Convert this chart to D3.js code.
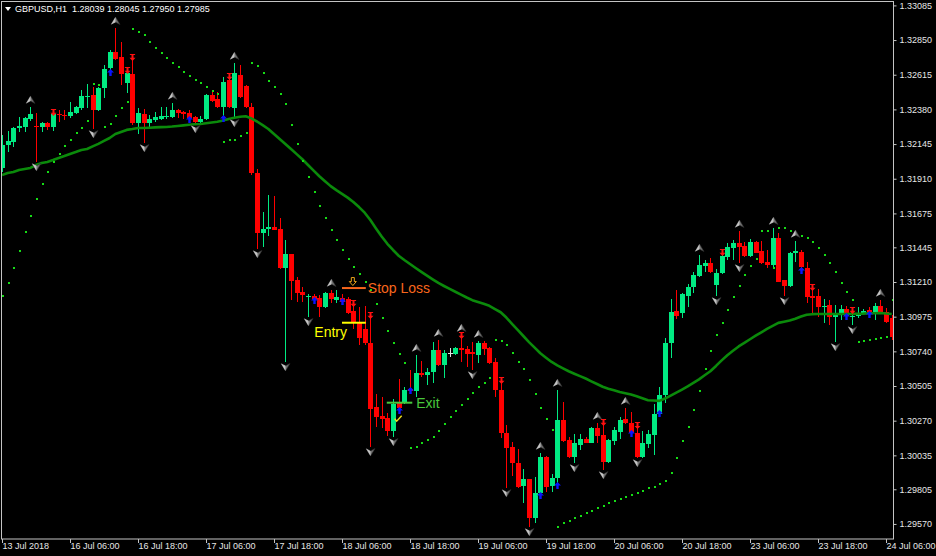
<!DOCTYPE html>
<html><head><meta charset="utf-8">
<script src="https://cdn.jsdelivr.net/npm/d3@7"></script>
<style>html,body{margin:0;padding:0;background:#000;}svg{display:block}</style>
</head><body><svg id="c" width="936" height="556"></svg>
<script>
// ---------------- data ----------------
const symbolLabel = "GBPUSD,H1";
const quoteValues = ["1.28039", "1.28045", "1.27950", "1.27985"];

const timeTickIndex = [0, 12, 24, 36, 48, 60, 72, 84, 96, 108, 120, 132, 144, 156];
const timeTickLabels = ["13 Jul 2018", "16 Jul 06:00", "16 Jul 18:00", "17 Jul 06:00", "17 Jul 18:00",
  "18 Jul 06:00", "18 Jul 18:00", "19 Jul 06:00", "19 Jul 18:00", "20 Jul 06:00", "20 Jul 18:00",
  "23 Jul 06:00", "23 Jul 18:00", "24 Jul 06:00"];
const priceTicks = [1.33085, 1.32850, 1.32615, 1.32380, 1.32145, 1.31910, 1.31675, 1.31445,
  1.31210, 1.30975, 1.30740, 1.30505, 1.30270, 1.30035, 1.29805, 1.29570];

const open = [
1.31983,1.32139,1.32159,1.32254,1.32261,1.32315,1.32268,1.32261,1.32288,1.32261,
1.32349,1.32342,1.32336,1.32356,1.32390,1.32464,1.32478,1.32376,1.32525,1.32661,
1.32769,1.32736,1.32559,1.32620,1.32288,1.32349,1.32288,1.32308,1.32315,1.32329,
1.32329,1.32376,1.32363,1.32356,1.32329,1.32295,1.32315,1.32478,1.32451,1.32397,
1.32580,1.32390,1.32613,1.32539,1.32397,1.31949,1.31542,1.31569,1.31583,1.31569,
1.31305,1.31400,1.31224,1.31142,1.31108,1.31115,1.31102,1.31041,1.31135,1.31088,
1.31102,1.31095,1.31013,1.30939,1.30891,1.30796,1.30363,1.30302,1.30288,1.30200,
1.30390,1.30390,1.30485,1.30471,1.30593,1.30579,1.30600,1.30749,1.30647,1.30729,
1.30722,1.30763,1.30756,1.30735,1.30715,1.30796,1.30763,1.30668,1.30478,1.30186,
1.30091,1.29983,1.29827,1.29874,1.29610,1.29779,1.30024,1.29827,1.29881,1.30274,
1.30139,1.30024,1.30105,1.30146,1.30118,1.30220,1.30173,1.29990,1.30132,1.30193,
1.30281,1.30254,1.30186,1.30024,1.30112,1.30173,1.30315,1.30444,1.30796,1.31013,
1.31000,1.31115,1.31176,1.31251,1.31319,1.31339,1.31190,1.31271,1.31380,1.31441,
1.31474,1.31454,1.31386,1.31481,1.31420,1.31346,1.31325,1.31508,1.31224,1.31183,
1.31407,1.31413,1.31305,1.31115,1.31115,1.31041,1.31054,1.30973,1.30993,1.31027,
1.30973,1.30980,1.31000,1.31020,1.31007,1.31047,1.31007,1.30966];

const high = [
1.32207,1.32234,1.32261,1.32329,1.32329,1.32397,1.32356,1.32295,1.32295,1.32363,
1.32376,1.32376,1.32430,1.32403,1.32512,1.32552,1.32532,1.32532,1.32681,1.32783,
1.32932,1.32837,1.32647,1.32736,1.32390,1.32383,1.32342,1.32363,1.32397,1.32397,
1.32424,1.32383,1.32369,1.32376,1.32336,1.32336,1.32485,1.32498,1.32498,1.32600,
1.32607,1.32695,1.32681,1.32546,1.32424,1.31976,1.31685,1.31800,1.31793,1.31644,
1.31495,1.31400,1.31244,1.31176,1.31129,1.31129,1.31122,1.31142,1.31156,1.31156,
1.31129,1.31108,1.31068,1.31041,1.31047,1.30986,1.30451,1.30430,1.30322,1.30417,
1.30552,1.30498,1.30613,1.30715,1.30674,1.30627,1.30803,1.30817,1.30749,1.30763,
1.30769,1.30851,1.30776,1.30803,1.30810,1.30810,1.30769,1.30695,1.30546,1.30240,
1.30125,1.30078,1.29942,1.29874,1.29888,1.30051,1.30030,1.29908,1.30478,1.30396,
1.30159,1.30179,1.30179,1.30159,1.30227,1.30254,1.30261,1.30146,1.30227,1.30295,
1.30356,1.30329,1.30240,1.30200,1.30207,1.30383,1.30498,1.30830,1.31095,1.31156,
1.31135,1.31196,1.31278,1.31393,1.31359,1.31373,1.31298,1.31413,1.31474,1.31495,
1.31556,1.31481,1.31502,1.31488,1.31488,1.31427,1.31576,1.31542,1.31224,1.31413,
1.31488,1.31427,1.31346,1.31176,1.31163,1.31095,1.31088,1.31054,1.31054,1.31047,
1.31020,1.31041,1.31027,1.31041,1.31068,1.31088,1.31034,1.30986];

const low = [
1.31956,1.32091,1.32125,1.32227,1.32227,1.32302,1.32024,1.32227,1.32241,1.32234,
1.32295,1.32308,1.32322,1.32349,1.32376,1.32390,1.32247,1.32369,1.32458,1.32620,
1.32715,1.32546,1.32491,1.32274,1.32213,1.32152,1.32261,1.32295,1.32308,1.32315,
1.32322,1.32322,1.32315,1.32302,1.32281,1.32288,1.32308,1.32430,1.32390,1.32308,
1.32390,1.32322,1.32458,1.32390,1.31935,1.31434,1.31447,1.31522,1.31563,1.31298,
1.30668,1.31088,1.31074,1.31074,1.30973,1.31074,1.30973,1.31034,1.31068,1.31068,
1.31068,1.30993,1.30891,1.30783,1.30783,1.30091,1.30227,1.30220,1.30166,1.30159,
1.30329,1.30383,1.30464,1.30430,1.30566,1.30512,1.30525,1.30641,1.30559,1.30702,
1.30715,1.30668,1.30634,1.30613,1.30661,1.30715,1.30654,1.30430,1.30152,1.29813,
1.29895,1.29813,1.29712,1.29549,1.29576,1.29752,1.29786,1.29786,1.29820,1.30125,
1.30017,1.29983,1.30071,1.30118,1.30118,1.30118,1.29935,1.29983,1.30105,1.30146,
1.30247,1.30173,1.30017,1.30017,1.30085,1.30037,1.30308,1.30390,1.30695,1.30959,
1.30966,1.31041,1.31135,1.31244,1.31278,1.31271,1.31115,1.31264,1.31359,1.31359,
1.31339,1.31380,1.31380,1.31407,1.31332,1.31305,1.31298,1.31210,1.31115,1.31176,
1.31346,1.31278,1.31068,1.31000,1.30973,1.30932,1.30918,1.30803,1.30952,1.30966,
1.30918,1.30966,1.30986,1.30980,1.30952,1.30993,1.30932,1.30817];

const close = [
1.32139,1.32166,1.32254,1.32268,1.32322,1.32349,1.32261,1.32288,1.32261,1.32349,
1.32342,1.32336,1.32363,1.32397,1.32471,1.32471,1.32376,1.32525,1.32654,1.32769,
1.32722,1.32620,1.32627,1.32288,1.32356,1.32288,1.32315,1.32329,1.32336,1.32336,
1.32376,1.32356,1.32349,1.32322,1.32295,1.32315,1.32478,1.32437,1.32397,1.32566,
1.32397,1.32627,1.32464,1.32397,1.31949,1.31542,1.31569,1.31583,1.31563,1.31305,
1.31400,1.31217,1.31135,1.31122,1.31115,1.31095,1.31041,1.31135,1.31095,1.31108,
1.31074,1.31000,1.30932,1.30830,1.30796,1.30349,1.30295,1.30281,1.30200,1.30383,
1.30356,1.30478,1.30471,1.30593,1.30579,1.30600,1.30749,1.30647,1.30729,1.30729,
1.30763,1.30749,1.30722,1.30722,1.30796,1.30756,1.30661,1.30478,1.30186,1.30085,
1.29983,1.29820,1.29874,1.29610,1.29779,1.30024,1.29820,1.29881,1.30274,1.30132,
1.30024,1.30118,1.30146,1.30118,1.30220,1.30166,1.29990,1.30139,1.30207,1.30274,
1.30254,1.30186,1.30024,1.30118,1.30179,1.30315,1.30444,1.30796,1.31007,1.30980,
1.31129,1.31176,1.31257,1.31325,1.31339,1.31278,1.31271,1.31386,1.31447,1.31474,
1.31447,1.31386,1.31481,1.31407,1.31339,1.31325,1.31508,1.31210,1.31183,1.31407,
1.31420,1.31312,1.31108,1.31102,1.31041,1.31047,1.30973,1.30993,1.31027,1.30980,
1.30980,1.30993,1.31013,1.30993,1.31047,1.31007,1.30939,1.30837];

// Parabolic SAR (one dot per bar)
const sar = [
1.31115,1.31203,1.31305,1.31420,1.31549,1.31658,1.31773,1.31874,1.31956,1.32024,
1.32078,1.32132,1.32173,1.32220,1.32254,1.32302,1.32552,1.32546,1.32261,1.32281,
1.32336,1.32390,1.32430,1.32925,1.32905,1.32885,1.32837,1.32797,1.32763,1.32729,
1.32695,1.32668,1.32634,1.32607,1.32580,1.32559,1.32532,1.32505,1.32485,1.32159,
1.32173,1.32173,1.32200,1.32220,1.32695,1.32675,1.32627,1.32573,1.32532,1.32485,
1.32417,1.32274,1.32146,1.32030,1.31922,1.31820,1.31725,1.31644,1.31563,1.31495,
1.31427,1.31366,1.31312,1.31264,1.31210,1.31156,1.31061,1.30966,1.30878,1.30796,
1.30722,1.30661,1.30085,1.30091,1.30118,1.30139,1.30159,1.30200,1.30247,1.30295,
1.30335,1.30376,1.30417,1.30457,1.30498,1.30525,1.30559,1.30817,1.30810,1.30783,
1.30729,1.30668,1.30620,1.30546,1.30451,1.30356,1.30281,1.30207,1.29549,1.29576,
1.29590,1.29610,1.29624,1.29644,1.29657,1.29678,1.29691,1.29712,1.29725,1.29739,
1.29752,1.29766,1.29779,1.29793,1.29813,1.29820,1.29840,1.29861,1.29915,1.30017,
1.30132,1.30227,1.30342,1.30471,1.30620,1.30742,1.30851,1.30932,1.31020,1.31108,
1.31183,1.31257,1.31319,1.31366,1.31556,1.31556,1.31305,1.31576,1.31576,1.31556,
1.31542,1.31522,1.31508,1.31481,1.31441,1.31393,1.31339,1.31278,1.31203,1.31142,
1.31088,1.30803,1.30810,1.30817,1.30824,1.30830,1.30837,1.31088];

// Moving average (one value per bar)
const ma = [
1.31935,1.31949,1.31956,1.31969,1.31976,1.31983,1.32003,1.32017,1.32024,1.32037,
1.32051,1.32064,1.32078,1.32091,1.32105,1.32112,1.32129,1.32146,1.32166,1.32186,
1.32213,1.32227,1.32241,1.32247,1.32254,1.32254,1.32256,1.32258,1.32260,1.32261,
1.32264,1.32268,1.32272,1.32276,1.32279,1.32281,1.32286,1.32291,1.32296,1.32305,
1.32315,1.32323,1.32330,1.32334,1.32319,1.32298,1.32273,1.32247,1.32213,1.32179,
1.32146,1.32111,1.32077,1.32042,1.32003,1.31965,1.31927,1.31893,1.31860,1.31833,
1.31808,1.31782,1.31752,1.31718,1.31680,1.31630,1.31573,1.31518,1.31469,1.31427,
1.31388,1.31359,1.31332,1.31305,1.31279,1.31253,1.31228,1.31204,1.31183,1.31163,
1.31144,1.31125,1.31105,1.31087,1.31075,1.31063,1.31049,1.31027,1.31005,1.30969,
1.30927,1.30885,1.30844,1.30803,1.30765,1.30727,1.30697,1.30668,1.30645,1.30625,
1.30605,1.30588,1.30572,1.30556,1.30537,1.30519,1.30500,1.30487,1.30477,1.30465,
1.30456,1.30447,1.30435,1.30422,1.30409,1.30407,1.30404,1.30420,1.30440,1.30460,
1.30481,1.30503,1.30526,1.30550,1.30578,1.30605,1.30641,1.30679,1.30714,1.30744,
1.30773,1.30797,1.30822,1.30846,1.30869,1.30892,1.30912,1.30933,1.30941,1.30949,
1.30961,1.30976,1.30988,1.30992,1.30993,1.30993,1.30993,1.30993,1.30993,1.30993,
1.30994,1.30995,1.30996,1.30998,1.30998,1.31000,1.30996,1.30993];

// Fractals and signal arrows (bar indices)
const fractalUp = [5,20,30,41,58,73,77,81,84,95,98,105,110,123,130,136,140,155];
const fractalDown = [6,16,25,34,41,45,50,54,65,69,83,89,93,101,106,112,126,130,138,147,150];
const buyArrows = [19,33,39,55,60,70,72,95,98,111,116,141,149,153];
const sellArrows = [9,22,23,40,62,65,81,88,106,112,127,143,150];

// Trade annotations: bar range and price level
const annLabels = ["Stop Loss", "Entry", "Exit"];
const annFrom   = [60, 60, 67.9];
const annTo     = [64.2, 64.2, 72.4];
const annPrice  = [1.31169, 1.30934, 1.30392];

// ---------------- drawing ----------------
const svg = d3.select("#c");
svg.append("rect").attr("width", 936).attr("height", 556).attr("fill", "#000");

const nBars = open.length;
const x = d3.scaleLinear().domain([0, nBars - 1]).range([2, 2 + (nBars - 1) * 17 / 3]);
const y = d3.scaleLinear().domain([1.29468, 1.33108]).range([539, 2]);

const BULL = "#00ea82", BEAR = "#ff0000", DOJI = "#e0e0e0";
const FONT = "'Liberation Sans', Arial, sans-serif";

svg.append("defs").append("clipPath").attr("id", "clip")
  .append("rect").attr("x", 2).attr("y", 2).attr("width", 891).attr("height", 537);

const g = svg.append("g").attr("clip-path", "url(#clip)");

// candles
const idx = d3.range(nBars);
const cg = g.append("g").attr("shape-rendering", "crispEdges");
idx.forEach(i => {
  const cx = Math.round(x(i));
  const col = close[i] > open[i] ? BULL : (close[i] < open[i] ? BEAR : DOJI);
  const yh = Math.round(y(high[i])), yl = Math.round(y(low[i]));
  cg.append("rect").attr("x", cx).attr("y", yh).attr("width", 1).attr("height", Math.max(1, yl - yh)).attr("fill", col);
  const yt = Math.round(y(Math.max(open[i], close[i])));
  const yb = Math.round(y(Math.min(open[i], close[i])));
  cg.append("rect").attr("x", cx - 2).attr("y", yt).attr("width", 5).attr("height", Math.max(1, yb - yt)).attr("fill", col);
});

// moving average
g.append("path").datum(ma)
  .attr("d", d3.line().x((d, i) => x(i)).y(d => y(d)))
  .attr("fill", "none").attr("stroke", "#0b8a0b").attr("stroke-width", 2.6).attr("stroke-linejoin", "round");

// parabolic SAR
g.append("g").attr("shape-rendering", "crispEdges").selectAll("rect").data(sar).join("rect")
  .attr("x", (d, i) => Math.round(x(i)) - 0.5).attr("y", d => Math.round(y(d)) - 1)
  .attr("width", 2).attr("height", 2).attr("fill", "#16dc16");

// fractals
const upPath = "M0,-4L4.5,3.5L0,1.2L-4.5,3.5Z";
const upLeft = "M0,-4L0,1.2L-4.5,3.5Z";
const dnPath = "M0,4L4.5,-3.5L0,-1.2L-4.5,-3.5Z";
const dnLeft = "M0,4L0,-1.2L-4.5,-3.5Z";
fractalUp.forEach(i => {
  const t = `translate(${Math.round(x(i)) + 0.5},${y(high[i]) - 7})`;
  g.append("path").attr("d", upPath).attr("transform", t).attr("fill", "#707070").attr("stroke", "#2a2a2a").attr("stroke-width", 0.6);
  g.append("path").attr("d", upLeft).attr("transform", t).attr("fill", "#c4c4c4");
});
fractalDown.forEach(i => {
  const t = `translate(${Math.round(x(i)) + 0.5},${y(low[i]) + 5})`;
  g.append("path").attr("d", dnPath).attr("transform", t).attr("fill", "#707070").attr("stroke", "#2a2a2a").attr("stroke-width", 0.6);
  g.append("path").attr("d", dnLeft).attr("transform", t).attr("fill", "#c4c4c4");
});

// buy / sell arrows
buyArrows.forEach(i => {
  g.append("path").attr("d", "M0,0L3.5,3.5L1.2,3.5L1.2,7L-1.2,7L-1.2,3.5L-3.5,3.5Z")
    .attr("transform", `translate(${Math.round(x(i)) + 0.5},${y(low[i]) - 5})`).attr("fill", "#0a14ff");
});
sellArrows.forEach(i => {
  g.append("path").attr("d", "M0,0L3,-3.2L1,-3.2L1,-6L2.6,-6L2.6,-7L-2.6,-7L-2.6,-6L-1,-6L-1,-3.2L-3,-3.2Z")
    .attr("transform", `translate(${Math.round(x(i)) + 0.5},${y(high[i]) + 4})`).attr("fill", "#ff1010");
});

// annotations
const annColor = ["#f8661c", "#ffff00", "#48c83c"];
annLabels.forEach((lab, k) => {
  const x0 = x(annFrom[k]), x1 = x(annTo[k]), yy = y(annPrice[k]);
  g.append("line").attr("x1", x0).attr("x2", x1).attr("y1", yy).attr("y2", yy)
    .attr("stroke", annColor[k]).attr("stroke-width", 2);
  const t = svg.append("text").text(lab).attr("fill", annColor[k])
    .attr("font-family", FONT).attr("font-size", 14);
  if (k === 0) t.attr("x", x1 + 2).attr("y", yy + 5);
  if (k === 1) t.attr("x", x0 + 5).attr("y", yy + 14.5).attr("text-anchor", "end");
  if (k === 2) t.attr("x", x1 + 4).attr("y", yy + 5.5);
});
// small stop-loss marker above stop line
{
  const cx = x(62) - 0.5, yy = y(annPrice[0]) - 6;
  g.append("path").attr("d", "M-1.5,-4.5L1.5,-4.5L1.5,-0.5L3.5,-0.5L0,3.5L-3.5,-0.5L-1.5,-0.5Z")
    .attr("transform", `translate(${cx},${yy})`).attr("fill", "none").attr("stroke", "#e8a21a").attr("stroke-width", 1);
}
// yellow check below exit
{
  const cx = x(70) - 0.5, yy = y(annPrice[2]) + 16;
  g.append("path").attr("d", "M-3.5,0L-1.5,2.5L3.5,-3")
    .attr("transform", `translate(${cx},${yy})`).attr("fill", "none").attr("stroke", "#f0e020").attr("stroke-width", 1.4);
}

// frame
svg.append("rect").attr("x", 1.5).attr("y", 1.5).attr("width", 892).attr("height", 537.5)
  .attr("fill", "none").attr("stroke", "#c4c4c4").attr("stroke-width", 1);

// right price axis
const ya = svg.append("g").attr("transform", "translate(893.5,0)")
  .call(d3.axisRight(y).tickValues(priceTicks).tickFormat(d3.format(".5f")).tickSize(3).tickPadding(3));
ya.select(".domain").remove();
ya.selectAll("line").attr("stroke", "#c4c4c4");
ya.selectAll("text").attr("fill", "#e6e6e6").attr("font-family", FONT).attr("font-size", 9);

// bottom time axis
const xa = svg.append("g").attr("transform", "translate(0,539)")
  .call(d3.axisBottom(x).tickValues(timeTickIndex).tickFormat((d, i) => timeTickLabels[i]).tickSize(4));
xa.select(".domain").remove();
xa.selectAll("line").attr("stroke", "#c4c4c4");
xa.selectAll("text").attr("fill", "#e6e6e6").attr("font-family", FONT).attr("font-size", 9)
  .attr("text-anchor", "start").attr("y", 4).attr("dy", "0.71em");

// title
svg.append("path").attr("d", "M5,7L11,7L8,11Z").attr("fill", "#ffffff");
svg.append("text").attr("x", 15).attr("y", 12).attr("fill", "#ffffff")
  .attr("font-family", FONT).attr("font-size", 9).style("white-space", "pre")
  .text(symbolLabel + "  " + quoteValues.join(" "));
</script>
</body></html>
